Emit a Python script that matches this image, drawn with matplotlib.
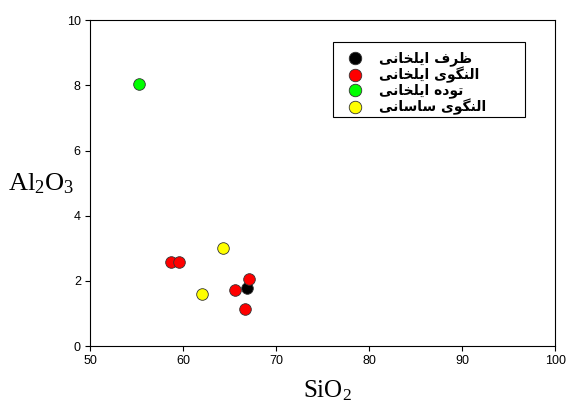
import matplotlib
matplotlib.use("Agg")
import matplotlib.pyplot as plt
from matplotlib.lines import Line2D
from matplotlib.patches import Rectangle

# Sample groups and measured oxide contents (wt%)
groups = ["ظرف ایلخانی", "النگوی ایلخانی", "توده ایلخانی", "النگوی ساسانی"]
colors = ["#000000", "#ff0000", "#00ff00", "#ffff00"]
sio2 = [
    [66.9],
    [58.7, 59.6, 65.6, 67.05, 66.7],
    [55.3],
    [64.3, 62.0],
]
al2o3 = [
    [1.78],
    [2.58, 2.58, 1.71, 2.06, 1.14],
    [8.05],
    [3.02, 1.60],
]
x_ticks = [50, 60, 70, 80, 90, 100]
y_ticks = [0, 2, 4, 6, 8, 10]

# Minimal Arabic-script shaping (contextual forms + visual RTL order)
FORMS = {
    "ا": ("\uFE8D", "\uFE8E", None, None),
    "ت": ("\uFE95", "\uFE96", "\uFE97", "\uFE98"),
    "خ": ("\uFEA5", "\uFEA6", "\uFEA7", "\uFEA8"),
    "د": ("\uFEA9", "\uFEAA", None, None),
    "ر": ("\uFEAD", "\uFEAE", None, None),
    "س": ("\uFEB1", "\uFEB2", "\uFEB3", "\uFEB4"),
    "ظ": ("\uFEC5", "\uFEC6", "\uFEC7", "\uFEC8"),
    "ف": ("\uFED1", "\uFED2", "\uFED3", "\uFED4"),
    "ل": ("\uFEDD", "\uFEDE", "\uFEDF", "\uFEE0"),
    "ن": ("\uFEE5", "\uFEE6", "\uFEE7", "\uFEE8"),
    "ه": ("\uFEE9", "\uFEEA", "\uFEEB", "\uFEEC"),
    "و": ("\uFEED", "\uFEEE", None, None),
    "ی": ("\uFBFC", "\uFBFD", "\uFBFE", "\uFBFF"),
    "گ": ("\uFB92", "\uFB93", "\uFB94", "\uFB95"),
}


def shape(text):
    out = []
    chars = list(text)
    for i, c in enumerate(chars):
        if c not in FORMS:
            out.append(c)
            continue
        prev = chars[i - 1] if i > 0 else None
        nxt = chars[i + 1] if i + 1 < len(chars) else None
        joins_prev = prev in FORMS and FORMS[prev][2] is not None
        joins_next = nxt in FORMS and FORMS[c][2] is not None
        iso, fin, ini, med = FORMS[c]
        if joins_prev and joins_next:
            out.append(med)
        elif joins_prev:
            out.append(fin)
        elif joins_next:
            out.append(ini)
        else:
            out.append(iso)
    return "".join(reversed(out))


plt.rcParams["mathtext.fontset"] = "custom"
plt.rcParams["mathtext.rm"] = "Liberation Serif"
plt.rcParams["mathtext.it"] = "Liberation Serif"

fig = plt.figure(figsize=(5.66, 4.03), dpi=100)
ax = fig.add_axes([0.159, 0.141, 0.822, 0.809])

for name, col, xs, ys in zip(groups, colors, sio2, al2o3):
    ax.scatter(xs, ys, s=70, c=col, edgecolors="#333333", linewidths=0.6, zorder=3)

ax.set_xlim(50, 100)
ax.set_ylim(0, 10)
ax.set_xticks(x_ticks)
ax.set_yticks(y_ticks)
ax.tick_params(direction="out", length=3.6, width=0.8, labelsize=9, pad=3)
for lbl in ax.get_xticklabels() + ax.get_yticklabels():
    lbl.set_fontfamily("Liberation Sans")
for sp in ax.spines.values():
    sp.set_linewidth(0.8)

ax.set_xlabel(r"SiO$_2$", fontsize=18, fontfamily="Liberation Serif")
ax.xaxis.set_label_coords(0.51, -0.1)
ax.set_ylabel(r"Al$_2$O$_3$", fontsize=19, fontfamily="Liberation Serif",
              rotation=0, ha="center", va="center")
ax.yaxis.set_label_coords(-0.105, 0.497)

# Legend frame
ax.add_patch(Rectangle((0.5226, 0.702), 0.413, 0.230, transform=ax.transAxes,
                       facecolor="white", edgecolor="black", linewidth=0.8,
                       zorder=4))

handles = [
    Line2D([], [], marker="o", linestyle="none", markersize=9,
           markerfacecolor=c, markeredgecolor="#333333", markeredgewidth=0.6)
    for c in colors
]
leg = ax.legend(handles, [shape(g) for g in groups],
                loc="upper left", bbox_to_anchor=(0.537, 0.925),
                frameon=False, borderpad=0,
                prop={"family": "DejaVu Sans", "size": 10, "weight": "bold"},
                handletextpad=1.1, labelspacing=0.03, handlelength=1.2)
leg.set_zorder(5)

fig.savefig("out.png", dpi=100)
